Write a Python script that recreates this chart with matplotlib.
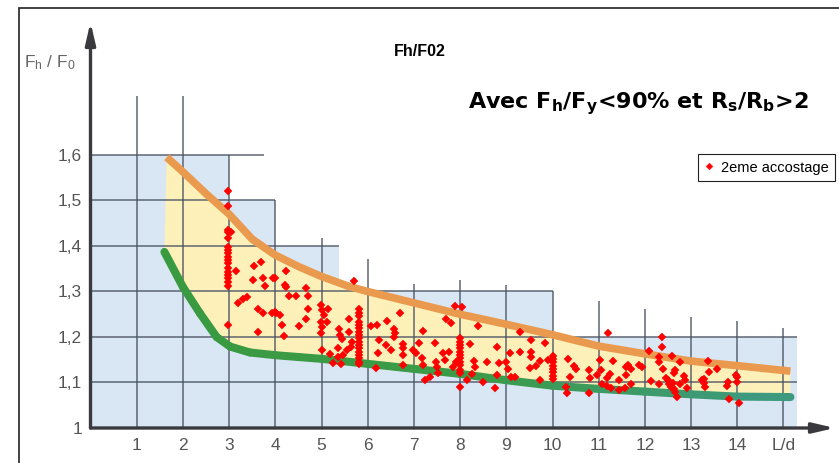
import matplotlib
matplotlib.use("Agg")
import matplotlib.pyplot as plt
from matplotlib.patches import Rectangle
from matplotlib.collections import LineCollection
from matplotlib.colors import LinearSegmentedColormap
import numpy as np

plt.rcParams["font.family"] = ["Liberation Sans", "DejaVu Sans"]
plt.rcParams["mathtext.fontset"] = "custom"
plt.rcParams["mathtext.rm"] = "Liberation Sans"
plt.rcParams["mathtext.bf"] = "DejaVu Sans:bold"
plt.rcParams["mathtext.it"] = "Liberation Sans:italic"

# --- data ---
x_ticks = list(range(1, 16))
x_labels = ["1", "2", "3", "4", "5", "6", "7", "8", "9", "10", "11", "12", "13", "14", "L/d"]
y_ticks = [1.0, 1.1, 1.2, 1.3, 1.4, 1.5, 1.6]
y_labels = ["1", "1,1", "1,2", "1,3", "1,4", "1,5", "1,6"]

# stepped light blue background (step edges / heights)
blue_x = [0, 3, 4, 5.38, 10, 15.3]
blue_top = [1.6, 1.5, 1.4, 1.3, 1.2, 1.2]

# grid segments of the abacus
h_levels = [1.1, 1.2, 1.3, 1.4, 1.5, 1.6]
h_ends = [15.3, 15.3, 10, 5.38, 4, 3.76]
v_pos = x_ticks
v_tops = [1.73, 1.73, 1.6, 1.5, 1.418, 1.371, 1.316, 1.325, 1.314, 1.30,
          1.279, 1.262, 1.244, 1.235, 1.22]

# upper (orange) and lower (green) limit curves
upper_x = [1.65, 2, 2.5, 3, 3.5, 4, 4.5, 5, 5.6, 6, 7, 8, 9, 10, 11, 12, 13, 14, 15.15]
upper_y = [1.595, 1.563, 1.515, 1.470, 1.415, 1.38, 1.355, 1.333, 1.311, 1.30,
           1.275, 1.25, 1.228, 1.205, 1.18, 1.163, 1.147, 1.137, 1.125]
lower_x = [1.6, 2, 2.37, 2.73, 3.02, 3.45, 4, 4.5, 5, 6, 7, 8, 9, 10, 11, 12, 13, 14, 15.15]
lower_y = [1.387, 1.31, 1.252, 1.20, 1.179, 1.166, 1.160, 1.156, 1.152, 1.141,
           1.13, 1.119, 1.105, 1.093, 1.086, 1.08, 1.074, 1.069, 1.068]

# 2eme accostage points
pts_x = [2.97] * 18 + [3.05,
         3.15, 3.54, 3.68, 3.51, 3.74, 3.77, 3.96, 4.0, 4.23, 4.21, 4.24, 4.30,
         4.45, 4.67, 4.70, 4.70, 4.67, 4.52, 3.20, 3.31, 3.38, 3.62, 3.74, 3.92,
         3.99, 4.01, 4.10, 4.14, 4.19, 3.62,
         4.98, 5.00, 5.15, 5.05, 5.11, 4.98, 5.00, 4.98, 5.00, 5.18, 5.24, 5.42,
         5.37, 5.41, 5.44, 5.35, 5.46, 5.35, 5.60, 5.60, 5.55, 5.63, 5.66, 5.71] + \
        [5.82] * 17 + [
         6.07, 6.20, 6.41, 6.25, 6.39, 6.50, 6.22, 6.18, 6.58, 6.59, 6.58, 6.69,
         6.77, 6.77, 6.77, 6.76, 6.98, 7.04, 7.12, 7.20, 7.17, 7.20, 7.24, 7.35,
         7.45, 7.48, 7.50, 7.53, 7.62, 7.67, 7.69, 7.80, 7.75, 7.84, 7.89, 8.05] + \
        [8.0] * 11 + [
         7.99, 7.91, 8.16, 8.22, 8.30, 8.33, 8.25, 8.39, 8.50, 8.58, 8.76, 8.79,
         8.79, 8.85, 8.99, 9.04, 9.08, 9.11, 9.19, 9.30, 9.30, 9.52, 9.54, 9.54,
         9.54, 9.65, 9.73, 9.74, 9.84] + \
        [10.01] * 8 + [
         9.91, 10.30, 10.31, 10.34, 10.47, 10.50, 10.38, 10.80, 10.82, 10.80,
         11.03, 11.06, 10.97, 11.08, 11.19, 11.24, 11.21, 11.30, 11.27, 11.17,
         11.43, 11.45, 11.59, 11.60, 11.63, 11.57, 11.69, 11.70, 11.88, 11.93,
         12.08, 12.13, 12.31, 12.31, 12.36, 12.38, 12.40, 12.31,
         12.46, 12.50, 12.52, 12.57, 12.62, 12.60, 12.66, 12.69,
         12.58, 12.66, 12.64, 12.75, 12.77, 12.84, 12.86, 12.92,
         13.27, 13.29, 13.31, 13.23, 13.36, 13.39, 13.57, 13.79, 13.78, 13.83,
         13.98, 14.0, 14.0, 14.03]
pts_y = [1.521, 1.488, 1.435, 1.431, 1.418, 1.398, 1.391, 1.385, 1.376, 1.369,
         1.363, 1.352, 1.343, 1.336, 1.330, 1.321, 1.312, 1.226, 1.430,
         1.346, 1.357, 1.364, 1.325, 1.330, 1.312, 1.329, 1.33, 1.346, 1.314, 1.309, 1.291,
         1.291, 1.308, 1.291, 1.261, 1.239, 1.224, 1.275, 1.283, 1.287, 1.261, 1.253, 1.253,
         1.256, 1.253, 1.248, 1.226, 1.203, 1.212,
         1.270, 1.26, 1.261, 1.248, 1.234, 1.232, 1.222, 1.208, 1.171, 1.163, 1.142, 1.140,
         1.217, 1.205, 1.195, 1.175, 1.160, 1.156, 1.239, 1.212, 1.171, 1.179, 1.19, 1.322,
         1.262, 1.253, 1.246, 1.233, 1.226, 1.220, 1.211, 1.204, 1.198, 1.189,
         1.182, 1.176, 1.167, 1.160, 1.154, 1.145, 1.141,
         1.224, 1.226, 1.236, 1.193, 1.182, 1.171, 1.164, 1.132, 1.217, 1.209, 1.201, 1.252,
         1.185, 1.175, 1.160, 1.138, 1.171, 1.164, 1.187, 1.214, 1.153, 1.138, 1.105, 1.111,
         1.187, 1.146, 1.134, 1.120, 1.164, 1.149, 1.239, 1.231, 1.168, 1.133, 1.268, 1.267,
         1.197, 1.190, 1.182, 1.175, 1.168, 1.160, 1.153, 1.146, 1.138, 1.127, 1.120,
         1.091, 1.146, 1.105, 1.185, 1.148, 1.133, 1.118, 1.224, 1.100, 1.146, 1.087, 1.179,
         1.116, 1.142, 1.146, 1.129, 1.164, 1.111, 1.111, 1.212, 1.168, 1.131, 1.193, 1.166,
         1.157, 1.136, 1.148, 1.105, 1.187,
         1.158, 1.151, 1.144, 1.136, 1.129, 1.122, 1.114, 1.107,
         1.149, 1.091, 1.078, 1.151, 1.136, 1.129, 1.111, 1.127, 1.109, 1.078,
         1.149, 1.127, 1.116, 1.097, 1.109, 1.118, 1.209, 1.148, 1.087, 1.092,
         1.084, 1.105, 1.116, 1.133, 1.138, 1.087, 1.097, 1.130, 1.138, 1.135,
         1.170, 1.104, 1.155, 1.146, 1.199, 1.177, 1.129, 1.097,
         1.110, 1.105, 1.097, 1.090, 1.085, 1.099, 1.080, 1.069,
         1.158, 1.127, 1.12, 1.146, 1.097, 1.114, 1.105, 1.087,
         1.107, 1.099, 1.091, 1.105, 1.148, 1.124, 1.129, 1.102, 1.093, 1.063,
         1.116, 1.112, 1.102, 1.054]

W, H = 839, 463
fig = plt.figure(figsize=(W / 100, H / 100), dpi=100)
fig.patch.set_facecolor("white")

# axes placed so that x=0 / y=1 sit on the drawn axis lines
x0_px, y0_px, ux, uy = 90.5, 428, 46.2, 455.0
xmax = (835 - x0_px) / ux
ymax = 1 + (y0_px - 22) / uy
ax = fig.add_axes([x0_px / W, (H - y0_px) / H, (835 - x0_px) / W, (y0_px - 22) / H])
ax.set_xlim(0, xmax)
ax.set_ylim(1.0, ymax)
ax.set_facecolor("none")
for s in ax.spines.values():
    s.set_visible(False)

# background steps
bx = np.array(blue_x)
bt = np.array(blue_top)
ax.fill_between(bx, 1.0, bt, step="post", color="#d9e7f5", lw=0, zorder=1)

# yellow band
band = list(zip(upper_x, upper_y)) + list(zip(lower_x, lower_y))[::-1]
ax.fill([p[0] for p in band], [p[1] for p in band], color="#fdf1b9", lw=0, zorder=2)

# abacus grid
grid_c = "#4a5262"
ax.hlines(h_levels, 0, h_ends, color=grid_c, lw=1.3, alpha=0.75, zorder=3)
ax.vlines(v_pos, 1.0, v_tops, color=grid_c, lw=1.3, alpha=0.75, zorder=3)

# limit curves
ax.plot(upper_x, upper_y, color="#e99a4e", lw=5.5, solid_capstyle="butt",
        solid_joinstyle="round", zorder=4)
seg = np.array(list(zip(lower_x, lower_y)))
segs = np.stack([seg[:-1], seg[1:]], axis=1)
gcmap = LinearSegmentedColormap.from_list("g", ["#3a9a40", "#3c9b48", "#3d9a84"])
mid = (seg[:-1, 0] + seg[1:, 0]) / 2
lc = LineCollection(segs, colors=gcmap((mid - 1.6) / (15.15 - 1.6)), lw=5.8,
                    capstyle="round", joinstyle="round", zorder=4)
ax.add_collection(lc)

# axes with arrows
ax_c = "#3a3a3e"
ax.annotate("", xy=(0, ymax), xytext=(0, 1.0), annotation_clip=False,
            arrowprops=dict(arrowstyle="-|>,head_length=1.3,head_width=0.3",
                            color=ax_c, lw=2.4, shrinkA=0, shrinkB=0), zorder=6)
ax.annotate("", xy=(xmax, 1.0), xytext=(0, 1.0), annotation_clip=False,
            arrowprops=dict(arrowstyle="-|>,head_length=1.3,head_width=0.3",
                            color=ax_c, lw=2.4, shrinkA=0, shrinkB=0), zorder=6)

# points
ax.plot(pts_x, pts_y, "D", color="red", ms=3.8, mec="red", mew=0.3,
        linestyle="none", zorder=7, clip_on=False, label="2eme accostage")

# ticks
ax.set_xticks(x_ticks, labels=x_labels)
ax.set_yticks(y_ticks, labels=y_labels)
ax.tick_params(length=0, labelsize=12.5, labelcolor="#555555")
ax.tick_params(axis="x", pad=7)
ax.tick_params(axis="y", pad=6)

# legend
leg = ax.legend(loc="upper right", bbox_to_anchor=(835 / W, 1 - 154 / H),
                bbox_transform=fig.transFigure, fontsize=10.5, frameon=True,
                fancybox=False, edgecolor="#222222", framealpha=1,
                handlelength=0.6, handletextpad=0.5, borderpad=0.45,
                markerscale=0.9, borderaxespad=0)
leg.get_frame().set_linewidth(0.8)

# texts
fig.text(24 / W, 1 - 63 / H, r"F$_\mathrm{h}$ / F$_\mathrm{0}$", fontsize=12.5,
         color="#666666", ha="left", va="center")
fig.text(420 / W, 1 - 52 / H, "Fh/F02", fontsize=11.5, fontweight="bold",
         ha="center", va="center")
fig.text(468 / W, 1 - 108 / H,
         r"Avec F$_\mathbf{h}$/F$_\mathbf{y}$<90% et R$_\mathbf{s}$/R$_\mathbf{b}$>2",
         fontsize=16, fontweight="bold", family="DejaVu Sans",
         ha="left", va="baseline")

# outer frame
fig.add_artist(Rectangle((19 / W, -0.1), 1.2, 1.1 - 8 / H, fill=False,
                         ec="#222222", lw=1.2, transform=fig.transFigure))

fig.savefig("out.png", dpi=100)
